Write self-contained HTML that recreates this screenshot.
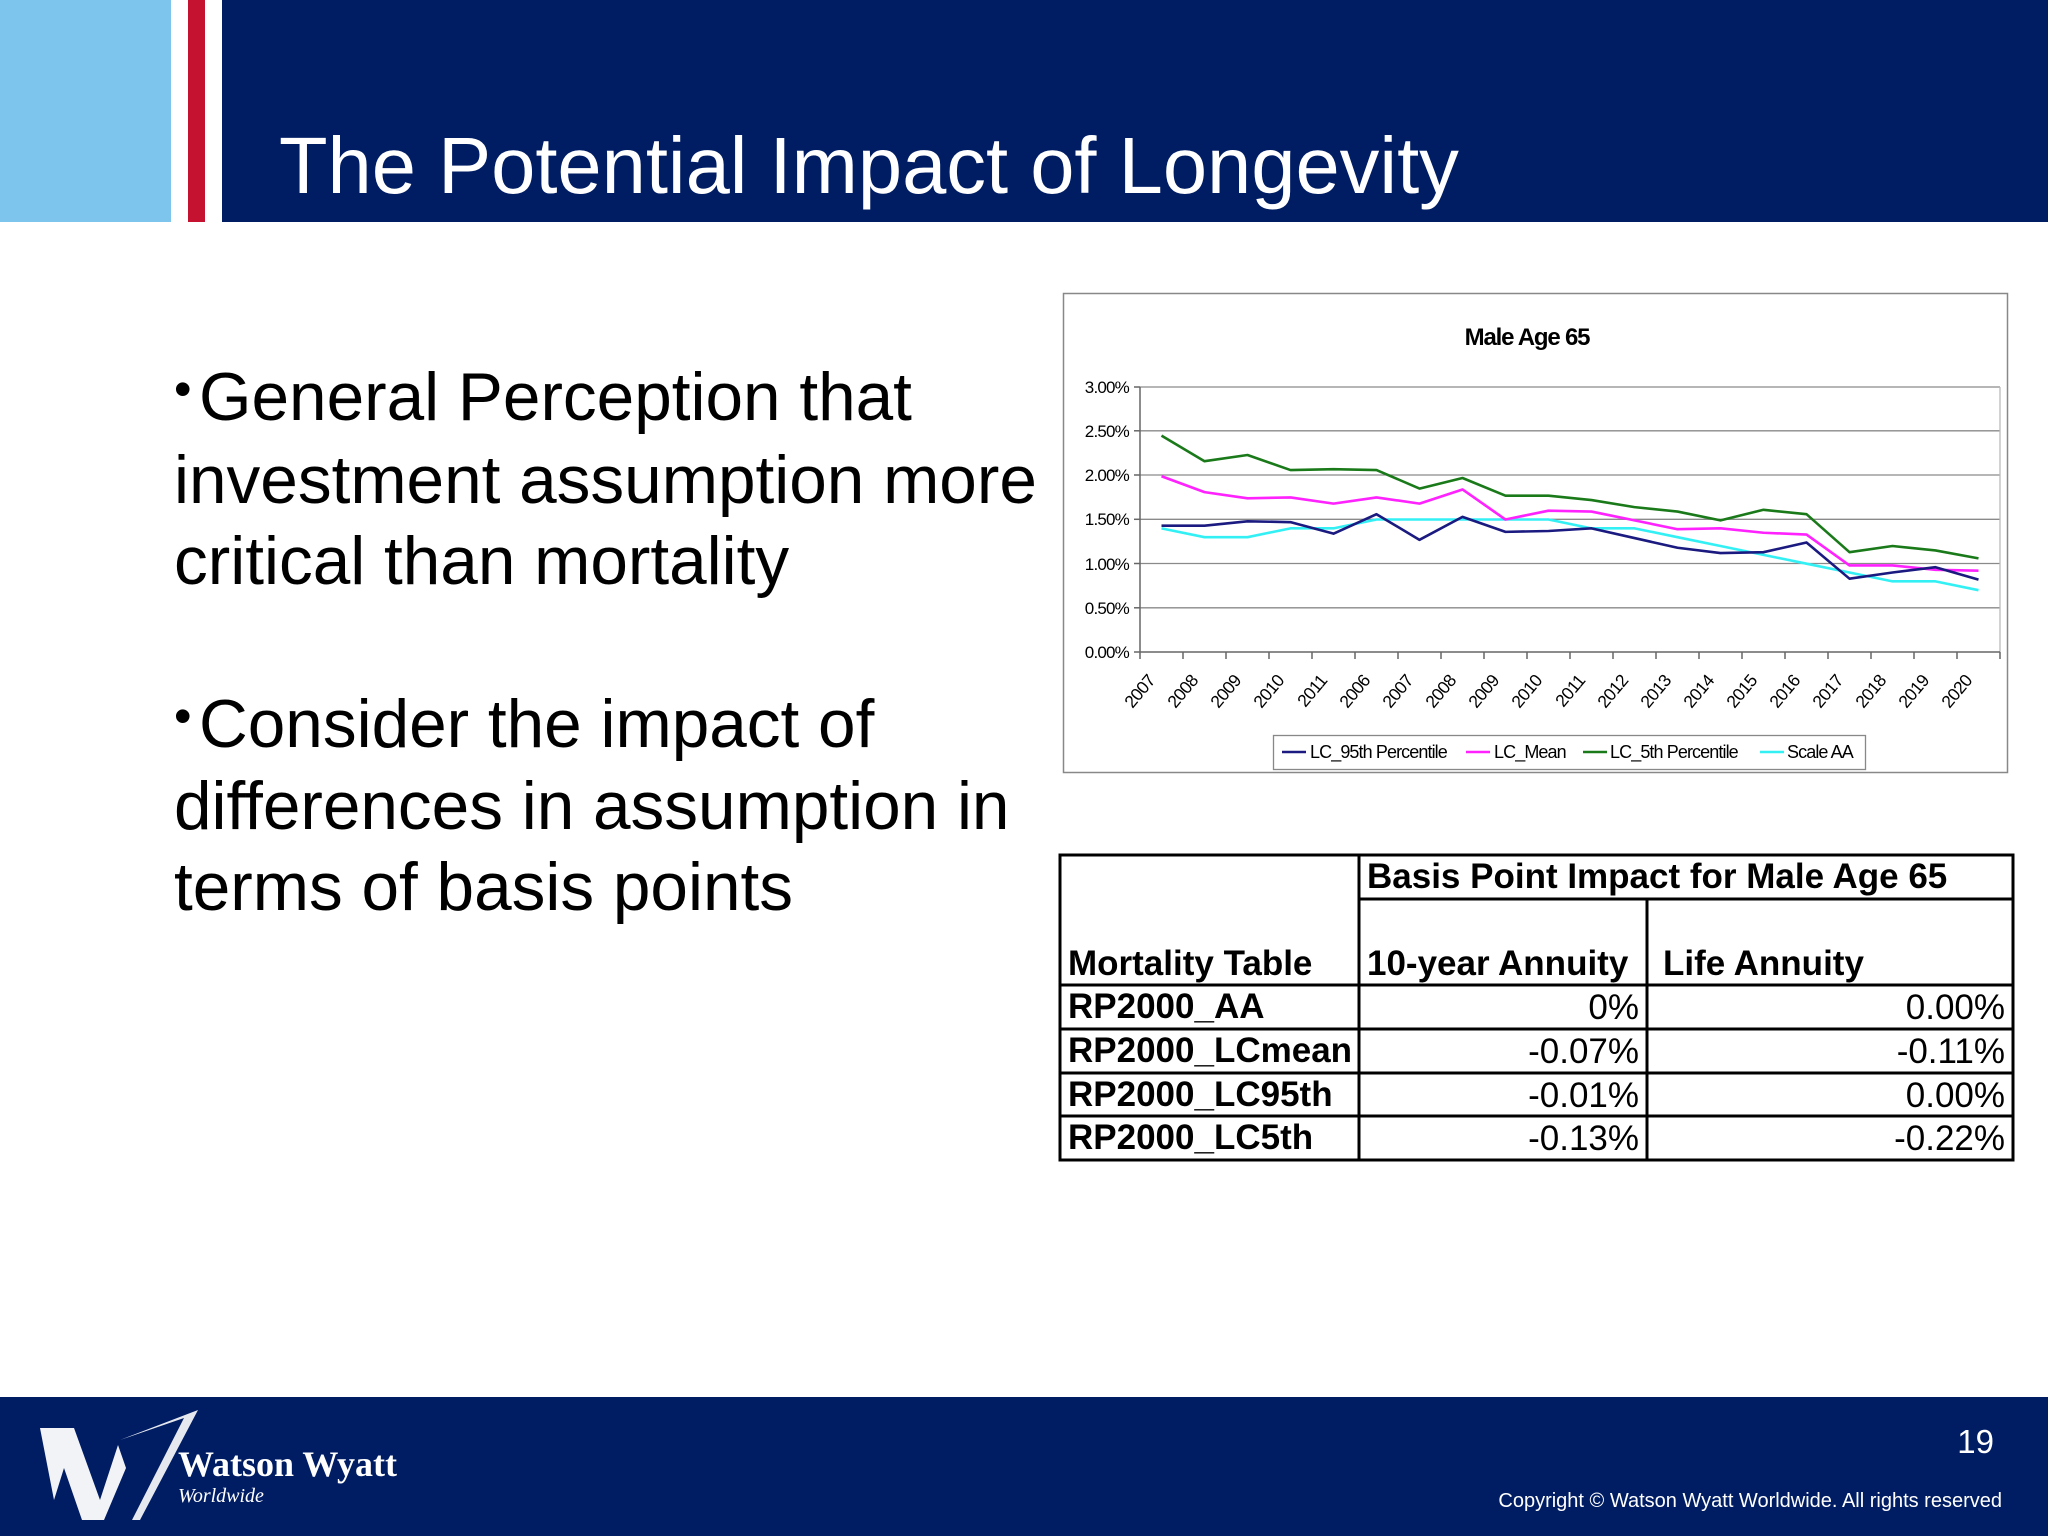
<!DOCTYPE html>
<html><head><meta charset="utf-8"><style>
html,body{margin:0;padding:0;background:#fff;}
body{width:2048px;height:1536px;overflow:hidden;position:relative;font-family:"Liberation Sans",Arial,sans-serif;}
</style></head><body>
<svg width="2048" height="1536" viewBox="0 0 2048 1536" xmlns="http://www.w3.org/2000/svg" style="position:absolute;left:0;top:0">
<!-- header -->
<rect x="0" y="0" width="2048" height="1536" fill="#fff"/>
<rect x="0" y="0" width="171" height="222" fill="#7DC5EC"/>
<rect x="188" y="0" width="17" height="222" fill="#C41230"/>
<rect x="222" y="0" width="1826" height="222" fill="#001D64"/>
<text x="279" y="193" font-family="Liberation Sans, Arial, sans-serif" font-size="79.5" fill="#fff">The Potential Impact of Longevity</text>

<!-- bullets -->
<g font-family="Liberation Sans, Arial, sans-serif" font-size="67.5" fill="#000">
<text x="174" y="406" font-size="50">•</text>
<text x="199" y="420">General Perception that</text>
<text x="174" y="503">investment assumption more</text>
<text x="174" y="584">critical than mortality</text>
<text x="174" y="733" font-size="50">•</text>
<text x="199" y="747">Consider the impact of</text>
<text x="174" y="829">differences in assumption in</text>
<text x="174" y="910">terms of basis points</text>
</g>

<!-- chart -->
<rect x="1063.5" y="293.5" width="944" height="479" fill="#fff" stroke="#888" stroke-width="1.5"/>
<text x="1527" y="345" text-anchor="middle" font-family="Liberation Sans, Arial, sans-serif" font-size="24" font-weight="bold" letter-spacing="-1.2">Male Age 65</text>
<g stroke="#8a8a8a" stroke-width="1.3">
<line x1="1140" y1="387" x2="2000" y2="387"/>
<line x1="1140" y1="430.8" x2="2000" y2="430.8"/>
<line x1="1140" y1="475" x2="2000" y2="475"/>
<line x1="1140" y1="519.3" x2="2000" y2="519.3"/>
<line x1="1140" y1="563.5" x2="2000" y2="563.5"/>
<line x1="1140" y1="607.8" x2="2000" y2="607.8"/>
<line x1="2000" y1="387" x2="2000" y2="652" stroke="#bbb"/>
</g>
<g stroke="#666" stroke-width="1.5">
<line x1="1140" y1="387" x2="1140" y2="652"/>
<line x1="1140" y1="652" x2="2000" y2="652"/>
<line x1="1134" y1="387" x2="1140" y2="387"/><line x1="1134" y1="430.8" x2="1140" y2="430.8"/><line x1="1134" y1="475" x2="1140" y2="475"/><line x1="1134" y1="519.3" x2="1140" y2="519.3"/><line x1="1134" y1="563.5" x2="1140" y2="563.5"/><line x1="1134" y1="607.8" x2="1140" y2="607.8"/><line x1="1134" y1="652" x2="1140" y2="652"/>
<line x1="1140" y1="652" x2="1140" y2="659"/><line x1="1183" y1="652" x2="1183" y2="659"/><line x1="1226" y1="652" x2="1226" y2="659"/><line x1="1269" y1="652" x2="1269" y2="659"/><line x1="1312" y1="652" x2="1312" y2="659"/><line x1="1355" y1="652" x2="1355" y2="659"/><line x1="1398" y1="652" x2="1398" y2="659"/><line x1="1441" y1="652" x2="1441" y2="659"/><line x1="1484" y1="652" x2="1484" y2="659"/><line x1="1527" y1="652" x2="1527" y2="659"/><line x1="1570" y1="652" x2="1570" y2="659"/><line x1="1613" y1="652" x2="1613" y2="659"/><line x1="1656" y1="652" x2="1656" y2="659"/><line x1="1699" y1="652" x2="1699" y2="659"/><line x1="1742" y1="652" x2="1742" y2="659"/><line x1="1785" y1="652" x2="1785" y2="659"/><line x1="1828" y1="652" x2="1828" y2="659"/><line x1="1871" y1="652" x2="1871" y2="659"/><line x1="1914" y1="652" x2="1914" y2="659"/><line x1="1957" y1="652" x2="1957" y2="659"/><line x1="2000" y1="652" x2="2000" y2="659"/>
</g>
<g font-family="Liberation Sans, Arial, sans-serif" font-size="17" text-anchor="end" letter-spacing="-0.8">
<text x="1129" y="393">3.00%</text><text x="1129" y="437">2.50%</text><text x="1129" y="481">2.00%</text><text x="1129" y="525">1.50%</text><text x="1129" y="570">1.00%</text><text x="1129" y="614">0.50%</text><text x="1129" y="658">0.00%</text>
</g>
<g font-family="Liberation Sans, Arial, sans-serif" font-size="17.5" text-anchor="end" letter-spacing="-0.6">
<text transform="translate(1156,681) rotate(-50)">2007</text>
<text transform="translate(1199,681) rotate(-50)">2008</text>
<text transform="translate(1242,681) rotate(-50)">2009</text>
<text transform="translate(1285,681) rotate(-50)">2010</text>
<text transform="translate(1328,681) rotate(-50)">2011</text>
<text transform="translate(1371,681) rotate(-50)">2006</text>
<text transform="translate(1414,681) rotate(-50)">2007</text>
<text transform="translate(1457,681) rotate(-50)">2008</text>
<text transform="translate(1500,681) rotate(-50)">2009</text>
<text transform="translate(1543,681) rotate(-50)">2010</text>
<text transform="translate(1586,681) rotate(-50)">2011</text>
<text transform="translate(1629,681) rotate(-50)">2012</text>
<text transform="translate(1672,681) rotate(-50)">2013</text>
<text transform="translate(1715,681) rotate(-50)">2014</text>
<text transform="translate(1758,681) rotate(-50)">2015</text>
<text transform="translate(1801,681) rotate(-50)">2016</text>
<text transform="translate(1844,681) rotate(-50)">2017</text>
<text transform="translate(1887,681) rotate(-50)">2018</text>
<text transform="translate(1930,681) rotate(-50)">2019</text>
<text transform="translate(1973,681) rotate(-50)">2020</text>
</g>
<g transform="translate(1161.5,652) scale(43,-88.33)" fill="none" stroke-width="2.6" stroke-linejoin="round">
<polyline vector-effect="non-scaling-stroke" stroke="#33F0F5" points="0,1.40 1,1.30 2,1.30 3,1.40 4,1.40 5,1.50 6,1.50 7,1.50 8,1.50 9,1.50 10,1.40 11,1.40 12,1.30 13,1.20 14,1.10 15,1.00 16,0.90 17,0.80 18,0.80 19,0.70"/>
<polyline vector-effect="non-scaling-stroke" stroke="#1A7A1A" points="0,2.45 1,2.16 2,2.23 3,2.06 4,2.07 5,2.06 6,1.85 7,1.97 8,1.77 9,1.77 10,1.72 11,1.64 12,1.59 13,1.49 14,1.61 15,1.56 16,1.13 17,1.20 18,1.15 19,1.06"/>
<polyline vector-effect="non-scaling-stroke" stroke="#FF22FF" points="0,1.99 1,1.81 2,1.74 3,1.75 4,1.68 5,1.75 6,1.68 7,1.84 8,1.50 9,1.60 10,1.59 11,1.49 12,1.39 13,1.40 14,1.35 15,1.33 16,0.98 17,0.98 18,0.93 19,0.92"/>
<polyline vector-effect="non-scaling-stroke" stroke="#1A1A80" points="0,1.43 1,1.43 2,1.48 3,1.47 4,1.34 5,1.56 6,1.27 7,1.53 8,1.36 9,1.37 10,1.40 11,1.29 12,1.18 13,1.12 14,1.13 15,1.24 16,0.83 17,0.90 18,0.96 19,0.82"/>
</g>
<rect x="1273.5" y="735.5" width="592" height="34" fill="#fff" stroke="#888" stroke-width="1.3"/>
<g stroke-width="2.4">
<line x1="1282" y1="752" x2="1306" y2="752" stroke="#1A1A80"/>
<line x1="1466" y1="752" x2="1490" y2="752" stroke="#FF22FF"/>
<line x1="1583" y1="752" x2="1607" y2="752" stroke="#1A7A1A"/>
<line x1="1760" y1="752" x2="1784" y2="752" stroke="#33F0F5"/>
</g>
<g font-family="Liberation Sans, Arial, sans-serif" font-size="18" letter-spacing="-0.9">
<text x="1310" y="758">LC_95th Percentile</text>
<text x="1494" y="758">LC_Mean</text>
<text x="1610" y="758">LC_5th Percentile</text>
<text x="1787" y="758">Scale AA</text>
</g>

<!-- table -->
<g stroke="#000" stroke-width="3" fill="none">
<rect x="1060" y="855" width="953" height="305"/>
<line x1="1359" y1="855" x2="1359" y2="1160"/>
<line x1="1647" y1="899" x2="1647" y2="1160"/>
<line x1="1359" y1="899" x2="2013" y2="899"/>
<line x1="1060" y1="985" x2="2013" y2="985"/>
<line x1="1060" y1="1029" x2="2013" y2="1029"/>
<line x1="1060" y1="1073" x2="2013" y2="1073"/>
<line x1="1060" y1="1116" x2="2013" y2="1116"/>
</g>
<g font-family="Liberation Sans, Arial, sans-serif" font-size="35" fill="#000">
<g font-weight="bold">
<text x="1367" y="888">Basis Point Impact for Male Age 65</text>
<text x="1068" y="975">Mortality Table</text>
<text x="1367" y="975">10-year Annuity</text>
<text x="1663" y="975">Life Annuity</text>
<text x="1068" y="1018">RP2000_AA</text>
<text x="1068" y="1062">RP2000_LCmean</text>
<text x="1068" y="1106">RP2000_LC95th</text>
<text x="1068" y="1149">RP2000_LC5th</text>
</g>
<g text-anchor="end">
<text x="1639" y="1019">0%</text><text x="2005" y="1019">0.00%</text>
<text x="1639" y="1063">-0.07%</text><text x="2005" y="1063">-0.11%</text>
<text x="1639" y="1107">-0.01%</text><text x="2005" y="1107">0.00%</text>
<text x="1639" y="1150">-0.13%</text><text x="2005" y="1150">-0.22%</text>
</g>
</g>

<!-- footer -->
<rect x="0" y="1397" width="2048" height="139" fill="#001D64"/>
<polygon points="40,1428 74,1428 100,1500 118,1445 126,1468 104,1520 82,1520 64,1468 54,1500" fill="#fff" opacity="0.95"/>
<polygon points="120,1440 198,1410 140,1520 132,1520 184,1418" fill="#fff" opacity="0.9"/>
<text x="178" y="1476" font-family="Liberation Serif, serif" font-size="36" font-weight="bold" fill="#fff">Watson Wyatt</text>
<text x="178" y="1502" font-family="Liberation Serif, serif" font-size="20" font-style="italic" fill="#fff">Worldwide</text>
<text x="1994" y="1453" text-anchor="end" font-family="Liberation Sans, Arial, sans-serif" font-size="33" fill="#fff">19</text>
<text x="2002" y="1507" text-anchor="end" font-family="Liberation Sans, Arial, sans-serif" font-size="20" fill="#fff">Copyright © Watson Wyatt Worldwide. All rights reserved</text>
</svg>
</body></html>
